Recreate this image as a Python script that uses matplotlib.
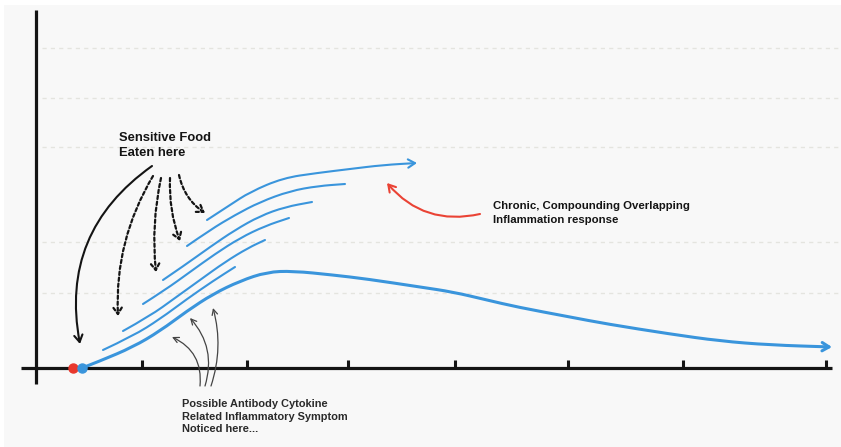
import numpy as np
import matplotlib.pyplot as plt
from matplotlib.path import Path
from matplotlib.patches import FancyArrowPatch

# sketch coordinates: origin where the two axes cross, x = time, y = inflammation
main_x = [46, 64, 97, 124, 151, 177, 204, 231, 257, 297, 331, 384, 417, 451, 481, 534, 571, 634, 684, 734, 796]
main_y = [0, 7, 21, 37, 57, 74, 87, 96, 97, 93, 89, 81, 76, 68, 61, 51, 44, 34, 27, 23, 21]

# overlapping responses, top (longest) first
wave_x = [
    [171, 194, 214, 247, 281, 314, 347, 381],
    [151, 174, 199, 224, 254, 282, 309],
    [127, 149, 174, 199, 224, 249, 276],
    [107, 129, 154, 179, 204, 229, 253],
    [87, 114, 139, 164, 189, 212, 229],
    [67, 97, 124, 151, 177, 199],
]
wave_y = [
    [148, 163, 176, 190, 195, 199, 203, 205],
    [122, 138, 153, 166, 177, 182, 184],
    [88, 103, 121, 138, 152, 161, 166],
    [64, 78, 96, 114, 130, 142, 150],
    [37, 52, 70, 88, 106, 120, 128],
    [18, 32, 49, 69, 87, 101],
]

x_ticks = [106, 211, 312, 419, 532, 647, 790]
grid_y = [75, 126, 221, 270, 320]

eaten_x, symptom_x = 37, 46

# dotted arrows from "Sensitive Food" label to each wave start
food_from = [(117, 192), (125, 190), (134, 190), (143, 193)]
food_to = [(82, 52), (120, 96), (144, 127), (169, 155)]
food_rad = [0.15, 0.08, 0.1, 0.2]

# symptom arrows from bottom label up to the rise
sym_from = [(164, -18), (169, -18), (175, -18)]
sym_to = [(136, 31), (154, 50), (177, 60)]
sym_rad = [0.35, 0.28, 0.15]

blue = '#3a95dc'
ink = '#141414'


def smooth(xs, ys):
    pts = np.column_stack([xs, ys]).astype(float)
    verts = [pts[0]]
    codes = [Path.MOVETO]
    for i in range(1, len(pts) - 1):
        verts += [pts[i], (pts[i] + pts[i + 1]) / 2]
        codes += [Path.CURVE3, Path.CURVE3]
    verts.append(pts[-1])
    codes.append(Path.LINETO)
    return Path(verts, codes)


fig = plt.figure(figsize=(8.41, 4.47), dpi=100, facecolor='white')
ax = fig.add_axes([4 / 841, 0, 837 / 841, 442 / 447])
ax.set_facecolor('#f8f8f8')
ax.set_xlim(-32, 805)
ax.set_ylim(-79, 363)
ax.set_xticks([])
ax.set_yticks([])
for s in ax.spines.values():
    s.set_visible(False)

plt.rcParams['font.family'] = ['Liberation Sans', 'DejaVu Sans']

for gy in grid_y:
    ax.plot([6, 804], [gy, gy], color='#e4e4df', lw=1, ls=(0, (3, 3)), zorder=1)

# axes
ax.plot([-15, 796], [0, 0], color=ink, lw=2.3, solid_capstyle='butt', zorder=3)
ax.plot([0, 0], [-16, 358], color=ink, lw=2.3, solid_capstyle='butt', zorder=3)
ax.vlines(x_ticks, 0, 8, color=ink, lw=2.2, zorder=3)

# main response
ax.add_patch(FancyArrowPatch(path=smooth(main_x, main_y), arrowstyle='->,head_length=5,head_width=3',
                             color=blue, lw=2.2, zorder=4, capstyle='round'))
for i, (wx, wy) in enumerate(zip(wave_x, wave_y)):
    if i == 0:
        ax.add_patch(FancyArrowPatch(path=smooth(wx, wy), arrowstyle='->,head_length=5,head_width=3',
                                     color=blue, lw=1.5, zorder=4))
    else:
        ax.add_patch(FancyArrowPatch(path=smooth(wx, wy), arrowstyle='-',
                                     color=blue, lw=1.5, zorder=4))

ax.plot([eaten_x], [0], 'o', color='#e8382d', ms=6.5, zorder=5)
ax.plot([symptom_x], [0], 'o', color=blue, ms=6.5, zorder=5)

# labels
ax.text(83, 236, 'Sensitive Food\nEaten here', fontsize=9.4, fontweight='bold', color=ink,
        va='top', ha='left', linespacing=1.38)
ax.text(457, 167, 'Chronic, Compounding Overlapping\nInflammation response', fontsize=8.2,
        fontweight='bold', color=ink, va='top', ha='left', linespacing=1.45)
ax.text(146, -31, 'Possible Antibody Cytokine\nRelated Inflammatory Symptom\nNoticed here...',
        fontsize=7.9, fontweight='bold', color='#2a2a2a', va='top', ha='left', linespacing=1.32)

# solid arrow to the moment food was eaten
ax.annotate('', xy=(44, 24), xytext=(116, 202),
            arrowprops=dict(arrowstyle='->,head_length=0.5,head_width=0.3', color=ink, lw=1.5,
                            connectionstyle='arc3,rad=0.32', shrinkA=0, shrinkB=0))
for (a, b, r) in zip(food_from, food_to, food_rad):
    ax.annotate('', xy=b, xytext=a,
                arrowprops=dict(arrowstyle='->,head_length=0.45,head_width=0.3', color=ink, lw=1.6,
                                ls=(0, (1.5, 1.2)), connectionstyle='arc3,rad=%s' % r,
                                shrinkA=0, shrinkB=0))
for (a, b, r) in zip(sym_from, sym_to, sym_rad):
    ax.annotate('', xy=b, xytext=a,
                arrowprops=dict(arrowstyle='->,head_length=0.4,head_width=0.2', color='#444444', lw=0.9,
                                connectionstyle='arc3,rad=%s' % r, shrinkA=0, shrinkB=0))

# chronic arrow
ax.annotate('', xy=(351, 185), xytext=(444, 154),
            arrowprops=dict(arrowstyle='->,head_length=0.5,head_width=0.3', color='#ea4335', lw=1.5,
                            connectionstyle='arc3,rad=-0.3', shrinkA=0, shrinkB=0))

fig.savefig('out.png', dpi=100, facecolor=fig.get_facecolor())
